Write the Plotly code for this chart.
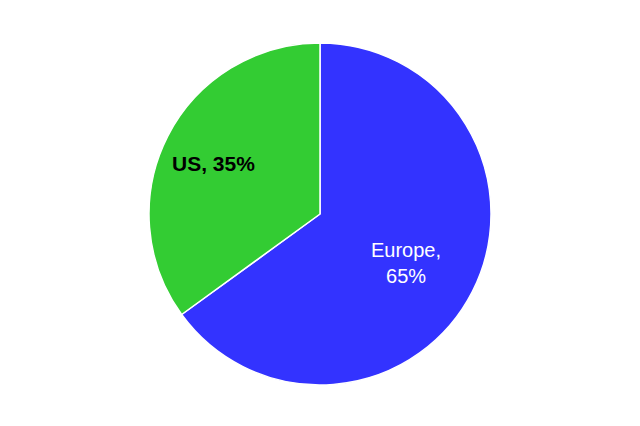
import plotly.graph_objects as go

labels = ["Europe", "US"]
values = [65, 35]
colors = ["#3333FF", "#33CC33"]
text_colors = ["#FFFFFF", "#000000"]

fig = go.Figure(go.Pie(
    labels=labels,
    values=values,
    sort=False,
    direction="clockwise",
    rotation=0,
    textinfo="none",
    marker=dict(colors=colors, line=dict(color="#FFFFFF", width=1.5)),
    showlegend=False,
    hoverinfo="label+percent",
))

total = sum(values)
pct = [round(100 * v / total) for v in values]
# label placement (paper coordinates) and styling
label_pos = [(0.751, 0.357), (0.189, 0.648)]
label_text = [f"{labels[0]},<br>{pct[0]}%", f"<b>{labels[1]}, {pct[1]}%</b>"]
label_size = [20, 21]
for t, (x, y), c, s in zip(label_text, label_pos, text_colors, label_size):
    fig.add_annotation(
        x=x, y=y, xref="paper", yref="paper",
        xanchor="center", yanchor="middle",
        text=t, showarrow=False,
        font=dict(color=c, size=s, family="Liberation Sans, Arial"),
    )

fig.update_layout(
    width=640, height=426,
    margin=dict(l=141, r=157, t=35, b=49),
    paper_bgcolor="white",
    plot_bgcolor="white",
    font=dict(family="Liberation Sans, Arial"),
)
fig.write_html("out.html")
